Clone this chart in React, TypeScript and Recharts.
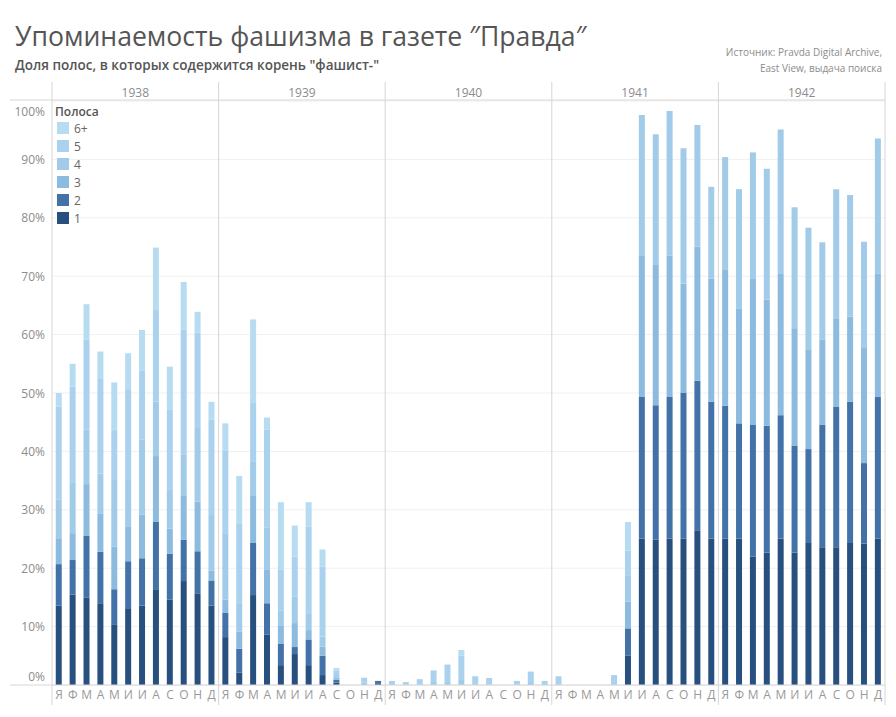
import { BarChart, Bar, XAxis, YAxis, CartesianGrid } from "recharts";

const YEARS = ["1938", "1939", "1940", "1941", "1942"];
const MONTHS = ["Я", "Ф", "М", "А", "М", "И", "И", "А", "С", "О", "Н", "Д"];
const Y_TICKS = [0, 10, 20, 30, 40, 50, 60, 70, 80, 90, 100];

// share of pages (%) mentioning "фашист-", split by page number, Jan 1938 .. Dec 1942
const page1 = [
  13.6, 15.5, 15.0, 14.0, 10.4, 13.0, 13.6, 16.4, 14.6, 17.8, 15.7, 13.6,
  8.2, 2.1, 15.4, 8.6, 3.4, 5.3, 3.4, 1.7, 0.4, 0, 0, 0.3,
  0, 0, 0, 0, 0, 0, 0, 0, 0, 0, 0, 0,
  0, 0, 0, 0, 0, 5.0, 25.1, 24.9, 25.1, 25.1, 26.5, 25.1,
  25.1, 25.1, 22.0, 22.7, 25.1, 22.7, 24.3, 23.6, 23.6, 24.3, 24.2, 25.1,
];
const page2 = [
  7.1, 5.9, 10.6, 8.8, 6.0, 8.2, 8.1, 11.6, 7.9, 7.1, 7.2, 4.3,
  4.2, 4.1, 9.0, 5.4, 3.7, 1.2, 4.4, 3.3, 0.5, 0, 0, 0.4,
  0, 0, 0, 0, 0, 0, 0, 0, 0, 0, 0, 0,
  0, 0, 0, 0, 0, 4.7, 24.2, 23.0, 24.2, 25.0, 25.6, 23.4,
  22.7, 19.7, 22.5, 21.7, 21.1, 18.3, 16.1, 21.0, 24.1, 24.2, 13.8, 24.2,
];
const page3 = [
  4.3, 4.6, 8.8, 6.6, 7.3, 6.0, 7.5, 11.2, 4.3, 7.6, 8.5, 1.7,
  2.2, 2.9, 8.1, 5.7, 3.0, 4.1, 1.6, 1.6, 0.4, 0, 0, 0,
  0, 0, 0, 0, 0, 0, 0, 0, 0, 0, 0, 0,
  0, 0, 0, 0, 0, 4.6, 24.3, 24.0, 24.2, 18.6, 23.0, 21.1,
  23.4, 19.7, 25.0, 21.6, 24.3, 20.1, 17.1, 14.5, 15.1, 14.6, 19.7, 21.2,
];
const page4 = [
  6.8, 8.6, 9.3, 6.8, 11.4, 7.9, 12.8, 9.3, 6.6, 6.9, 12.6, 9.5,
  11.4, 4.9, 5.7, 7.3, 2.7, 4.5, 2.9, 1.7, 0.4, 0, 0.4, 0,
  0, 0, 0, 0.5, 0.5, 1.0, 0, 0, 0, 0, 0.5, 0,
  0, 0, 0, 0, 0, 4.5, 24.0, 22.4, 24.8, 23.2, 20.8, 15.7,
  19.2, 20.4, 21.7, 22.4, 24.6, 20.7, 20.8, 16.7, 22.1, 20.8, 18.2, 23.1,
];
const page5 = [
  15.9, 16.5, 15.4, 16.2, 8.6, 15.4, 11.9, 15.7, 13.7, 21.4, 16.3, 16.3,
  14.2, 13.7, 10.1, 16.7, 6.9, 6.9, 14.8, 12.0, 0.8, 0, 0.85, 0,
  0.7, 0.5, 1.0, 2.0, 3.0, 4.0, 1.5, 1.2, 0, 0.7, 1.8, 0.7,
  1.5, 0, 0, 0, 1.7, 4.2, 0, 0, 0, 0, 0, 0,
  0, 0, 0, 0, 0, 0, 0, 0, 0, 0, 0, 0,
];
const page6 = [
  2.3, 3.9, 6.1, 4.7, 8.1, 6.3, 6.9, 10.7, 7.4, 8.2, 3.6, 3.1,
  4.6, 8.1, 14.3, 2.1, 11.6, 5.3, 4.2, 2.9, 0.4, 0, 0, 0,
  0, 0, 0, 0, 0, 1.0, 0, 0, 0, 0, 0, 0,
  0, 0, 0, 0, 0, 4.9, 0, 0, 0, 0, 0, 0,
  0, 0, 0, 0, 0, 0, 0, 0, 0, 0, 0, 0,
];

const SERIES = [
  { key: "p1", name: "1", values: page1, color: "#28507f" },
  { key: "p2", name: "2", values: page2, color: "#4272a7" },
  { key: "p3", name: "3", values: page3, color: "#8cbbdf" },
  { key: "p4", name: "4", values: page4, color: "#a1cbe9" },
  { key: "p5", name: "5", values: page5, color: "#aad2ee" },
  { key: "p6", name: "6+", values: page6, color: "#b7dbf1" },
];

const data = YEARS.flatMap((year, yi) =>
  MONTHS.map((m, mi) => {
    const i = yi * 12 + mi;
    const row: Record<string, any> = { key: `${year}-${mi + 1}`, month: m };
    SERIES.forEach((s) => (row[s.key] = s.values[i]));
    return row;
  })
);

const W = 896;
const H = 717;
const PLOT_L = 52;
const PLOT_R = 885;
const PLOT_T = 101;
const PLOT_B = 685;
const STEP = (PLOT_R - PLOT_L) / data.length;

const LINE = "#d6d6d6";
const TEXT = "#8c8c8c";

function MonthTick(props: any) {
  const { x, index } = props;
  const left = x - STEP / 2;
  return (
    <g>
      <text x={x} y={694} textAnchor="middle" dominantBaseline="central" fontSize={12} fill="#999">
        {MONTHS[index % 12]}
      </text>
      {index % 12 === 0 && (
        <>
          <line x1={left} x2={left} y1={82} y2={705} stroke={LINE} />
          <text x={left + STEP * 6} y={92} textAnchor="middle" dominantBaseline="central" fontSize={12} fill={TEXT}>
            {YEARS[index / 12]}
          </text>
        </>
      )}
      {index === data.length - 1 && (
        <line x1={x + STEP / 2} x2={x + STEP / 2} y1={82} y2={705} stroke={LINE} />
      )}
      {index === 0 && (
        <>
          <line x1={10} x2={PLOT_R} y1={100} y2={100} stroke={LINE} />
          <line x1={10} x2={PLOT_R} y1={PLOT_B} y2={PLOT_B} stroke={LINE} />
        </>
      )}
    </g>
  );
}

function PercentTick(props: any) {
  const { y, payload } = props;
  const yy = Math.min(Math.max(y, 111), 676);
  return (
    <text x={45} y={yy} textAnchor="end" dominantBaseline="central" fontSize={12} fill={TEXT}>
      {payload.value}%
    </text>
  );
}

export default function App() {
  const legend = [...SERIES].reverse();
  return (
    <div
      style={{
        position: "absolute",
        left: 0,
        top: 0,
        width: W,
        height: H,
        background: "#fff",
        fontFamily: '"Open Sans", sans-serif',
      }}
    >
      <BarChart
        width={W}
        height={H}
        data={data}
        margin={{ top: PLOT_T, right: W - PLOT_R, bottom: 12, left: 8 }}
        barCategoryGap="27%"
      >
        <CartesianGrid vertical={false} stroke="#f0f0f0" />
        <XAxis
          dataKey="key"
          interval={0}
          height={20}
          axisLine={false}
          tickLine={false}
          tick={MonthTick}
        />
        <YAxis
          width={44}
          domain={[0, 100]}
          ticks={Y_TICKS}
          axisLine={false}
          tickLine={false}
          tick={PercentTick}
        />
        {SERIES.map((s) => (
          <Bar key={s.key} dataKey={s.key} stackId="a" fill={s.color} isAnimationActive={false} />
        ))}
      </BarChart>
      <svg
        width={W}
        height={H}
        style={{ position: "absolute", left: 0, top: 0, pointerEvents: "none" }}
      >
        <text x={15} y={46} fontSize={26.6} fill="#555">
          Упоминаемость фашизма в газете ″Правда″
        </text>
        <text x={15} y={70} fontSize={13.5} fontWeight={600} fill="#555">
          Доля полос, в которых содержится корень "фашист-"
        </text>
        <text x={882} y={55.5} fontSize={10} fill={TEXT} textAnchor="end">
          Источник: Pravda Digital Archive,
        </text>
        <text x={882} y={71.5} fontSize={10} fill={TEXT} textAnchor="end">
          East View, выдача поиска
        </text>
        <text x={55} y={111} fontSize={12} fontWeight={600} fill="#555" dominantBaseline="central">
          Полоса
        </text>
        {legend.map((s, i) => (
          <g key={s.key}>
            <rect x={57} y={128 + i * 18 - 6} width={12} height={12} fill={s.color} />
            <text x={74} y={128 + i * 18} fontSize={12} fill="#666" dominantBaseline="central">
              {s.name}
            </text>
          </g>
        ))}
      </svg>
    </div>
  );
}
